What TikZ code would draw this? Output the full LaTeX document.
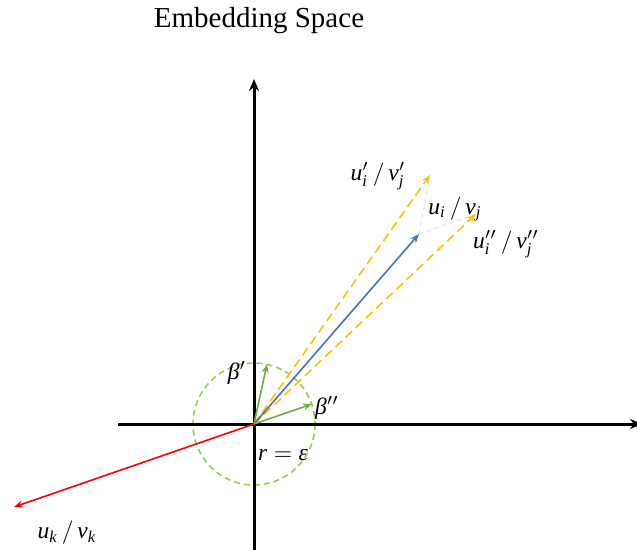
\documentclass[tikz,border=0pt]{standalone}
\usepackage{fontspec}
\newfontfamily\titlefont{Liberation Serif}
\newfontfamily\lsrf[NFSSFamily=lsrf]{Liberation Serif}
\DeclareSymbolFont{letters}{TU}{lsrf}{m}{it}
\Umathchardef\beta="7 \symletters "03B2
\Umathchardef\varepsilon="7 \symletters "03B5
\usetikzlibrary{arrows.meta}
\definecolor{cyellow}{HTML}{FFC000}
\definecolor{cblue}{HTML}{4472C4}
\definecolor{cred}{HTML}{FF0000}
\definecolor{cgreen}{HTML}{70AD47}
\definecolor{clgreen}{HTML}{92D050}
\definecolor{cfaint}{HTML}{E4E4E4}
\newcommand{\mylblmath}[1]{\scalebox{2.35}{$#1$}}
\tikzset{
  axis/.style={line width=3pt, -{Stealth[length=12pt,width=10pt]}},
  vec/.style={line width=1.6pt, -{Stealth[length=9pt,width=7pt]}},
  dvec/.style={vec, dash pattern=on 9pt off 5pt},
  lbl/.style={inner sep=0pt},
}
\begin{document}
\begin{tikzpicture}[x=1pt,y=-1pt]
\useasboundingbox (0,0) rectangle (637,549);
\coordinate (O) at (254,424);
\coordinate (ytop) at (254,79);
\coordinate (ybot) at (254,552);
\coordinate (xl) at (118,424);
\coordinate (xr) at (642,424);
\coordinate (B) at (419,234);
\coordinate (Y1) at (430,175);
\coordinate (Y2) at (476,214);
\coordinate (G1) at (267,364);
\coordinate (G2) at (312,404);
\coordinate (R) at (14,507);
% circle
\draw[clgreen, line width=1.6pt, dash pattern=on 6pt off 4pt] (O) circle[radius=61];
% axes
\draw[axis] (ybot) -- (ytop);
\draw[axis] (xl) -- (xr);
% faint lines
\draw[cfaint, line width=1pt, dash pattern=on 5pt off 3pt] (B) -- (Y1);
\draw[cfaint, line width=1pt, dash pattern=on 5pt off 3pt] (B) -- (Y2);
% vectors
\draw[dvec, cyellow] (O) -- (Y1);
\draw[dvec, cyellow] (O) -- (Y2);
\draw[vec, cblue] (O) -- (B);
\draw[vec, cgreen] (O) -- (G1);
\draw[vec, cgreen] (O) -- (G2);
\draw[vec, cred] (O) -- (R);
% labels
\node[font=\titlefont\fontsize{29}{33}\selectfont, inner sep=0pt] (title) at (259,21) {Embedding Space};
\node[lbl] (l1) at (378,176) {\mylblmath{u'_i \,/\, v'_j}};
\node[lbl] (l2) at (455,209) {\mylblmath{u_i \,/\, v_j}};
\node[lbl] (l3) at (506,244) {\mylblmath{u''_i \,/\, v''_j}};
\node[lbl] (lb1) at (237,373) {\mylblmath{\beta'}};
\node[lbl] (lb2) at (327,408) {\mylblmath{\beta''}};
\node[lbl] (lr) at (283,455) {\mylblmath{r=\varepsilon}};
\node[lbl] (lk) at (67,533) {\mylblmath{u_k \,/\, v_k}};
\end{tikzpicture}
\end{document}
